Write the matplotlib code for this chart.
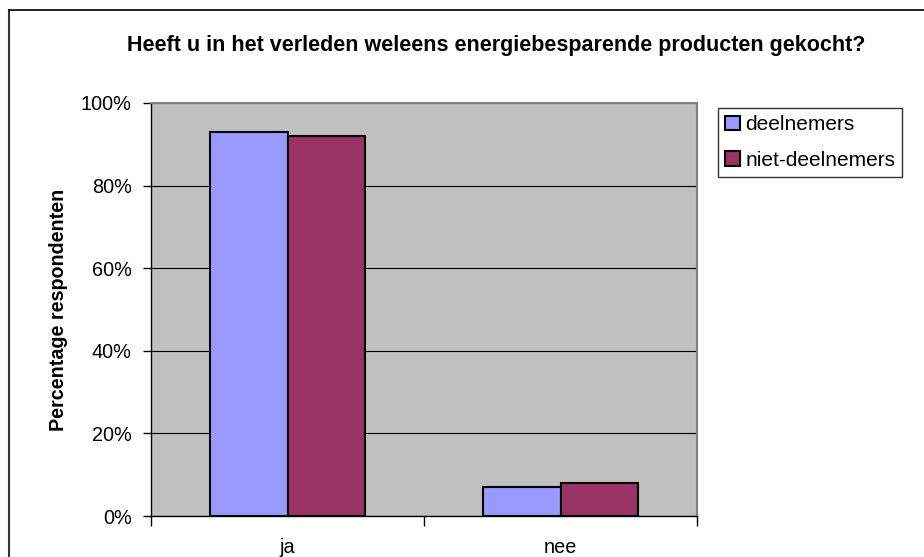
import matplotlib.pyplot as plt
import numpy as np
from matplotlib.lines import Line2D

# Enquete: eerder energiebesparende producten gekocht?
categories = ["ja", "nee"]
deelnemers = [93, 7]
niet_deelnemers = [92, 8]
yticks = [0, 20, 40, 60, 80, 100]

plt.rcParams['font.family'] = ['Liberation Sans', 'DejaVu Sans']

fig = plt.figure(figsize=(9.24, 5.57), dpi=100)
ax = fig.add_axes([151/924, 41/557, 546/924, 413/557])

x = np.arange(len(categories))
w = 0.2857
ax.bar(x - w/2, deelnemers, w, color='#9999FF', edgecolor='black', linewidth=1.5,
       label='deelnemers', zorder=3)
ax.bar(x + w/2, niet_deelnemers, w, color='#993366', edgecolor='black', linewidth=1.5,
       label='niet-deelnemers', zorder=3)

ax.set_facecolor('#C0C0C0')
ax.set_xlim(-0.5, len(categories) - 0.5)
ax.set_ylim(0, 100)
ax.set_yticks(yticks)
ax.set_yticklabels([f"{v}%" for v in yticks], fontsize=14.3)
ax.yaxis.grid(True, color='black', linewidth=0.8, zorder=1)
ax.set_axisbelow(True)

ax.set_xticks(x)
ax.set_xticklabels(categories, fontsize=14.3)
ax.set_xticks(np.arange(-0.5, len(categories)), minor=True)
ax.tick_params(axis='x', which='major', length=0, pad=16)
ax.tick_params(axis='x', which='minor', length=7, width=1, direction='out')
ax.tick_params(axis='y', length=6, width=1, direction='out', pad=8)

for s in ['top', 'right']:
    ax.spines[s].set_color('#808080')
    ax.spines[s].set_linewidth(1.5)
for s in ['left', 'bottom']:
    ax.spines[s].set_color('black')
    ax.spines[s].set_linewidth(1)

ax.set_ylabel("Percentage respondenten", fontsize=14.2, fontweight='bold', labelpad=9)

fig.text(0.5 + 34/924, 1 - 45/557,
         "Heeft u in het verleden weleens energiebesparende producten gekocht?",
         ha='center', va='center', fontsize=15.5, fontweight='bold')

leg = fig.legend(loc='upper left', bbox_to_anchor=(718/924, 1 - 108/557),
                 fontsize=15, frameon=True, fancybox=False, edgecolor='black',
                 handlelength=0.7, handleheight=0.7, handletextpad=0.25,
                 labelspacing=0.8, borderpad=0.35, borderaxespad=0)
leg.get_frame().set_linewidth(1)

# omlijsting van het diagram (links en boven)
fig.add_artist(Line2D([9/924, 9/924], [0, 1 - 10/557], color='#333333', linewidth=1.5))
fig.add_artist(Line2D([9/924, 1], [1 - 10/557, 1 - 10/557], color='black', linewidth=1.2))

fig.savefig('out.png', dpi=100)
